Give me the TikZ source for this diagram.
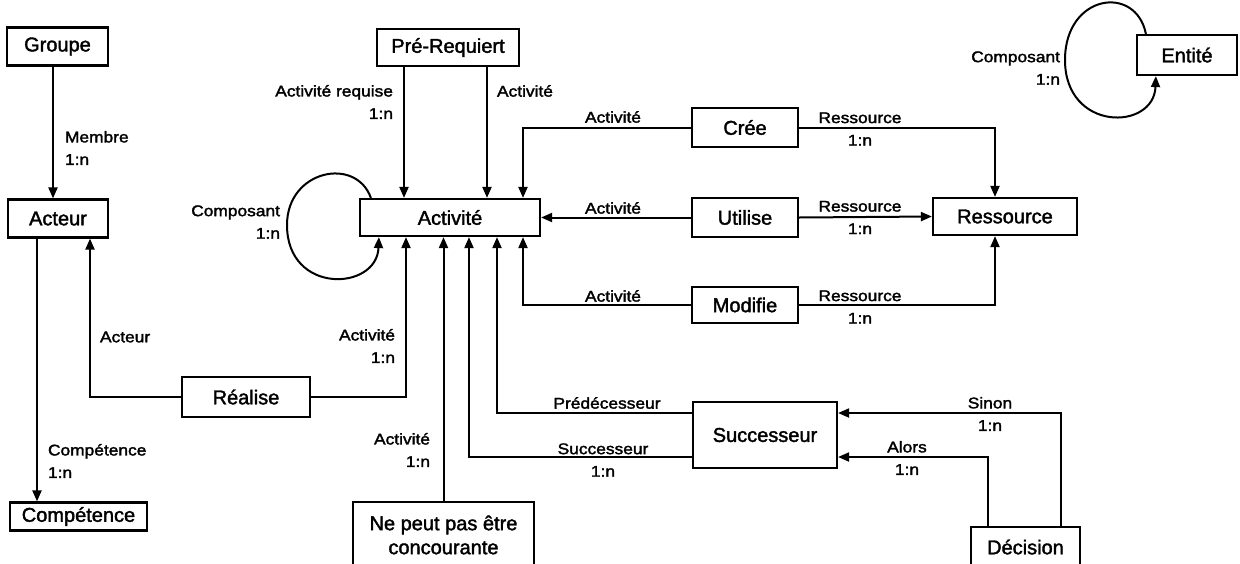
\documentclass[tikz,border=0pt]{standalone}
\usepackage{fontspec}
\setmainfont{Liberation Sans}[FakeBold=1.8]
\newfontfamily\etiqfont[FakeStretch=1.12,FakeBold=2]{Liberation Sans}
\usetikzlibrary{arrows.meta}

\begin{document}
\begin{tikzpicture}[x=1pt,y=-1pt,line width=2pt,>={Triangle[length=11pt,width=9pt]},
  boite/.style={draw,line width=2.2pt,inner sep=0pt,minimum height=38pt,
    font=\fontsize{20}{24}\selectfont},
  etiq/.style={inner sep=0pt,font=\etiqfont\fontsize{15.5}{22.5}\selectfont}]
\useasboundingbox (0,0) rectangle (1240,563);
\clip (0,0) rectangle (1240,563);
% ---------- entités ----------
\node[boite,minimum width=101pt] (groupe) at (57.5,46.5) {Groupe};
\node[boite,minimum width=100pt] (acteur) at (58,218.5) {Acteur};
\node[boite,minimum width=137pt,minimum height=28pt] (competence) at (78.5,516.5) {Compétence};
\node[boite,minimum width=128pt,minimum height=40pt] (realise) at (246,397) {Réalise};
\node[boite,minimum width=180pt,minimum height=37pt] (activite) at (450,217.5) {Activité};
\node[boite,minimum width=142pt,minimum height=37pt] (prereq) at (448,47.5) {Pré-Requiert};
\node[boite,minimum width=106pt,minimum height=39pt] (cree) at (745,127.5) {Crée};
\node[boite,minimum width=106pt,minimum height=39pt] (utilise) at (745,217.5) {Utilise};
\node[boite,minimum width=106pt,minimum height=36pt] (modifie) at (745,305) {Modifie};
\node[boite,minimum width=144pt,minimum height=37pt] (ressource) at (1005,216.5) {Ressource};
\node[boite,minimum width=100pt,minimum height=40pt] (entite) at (1187,55) {Entité};
\node[boite,minimum width=144pt,minimum height=66pt] (successeur) at (765,435) {Successeur};
\node[boite,minimum width=181pt,minimum height=66pt,align=center] (concur) at (443.5,535)
  {Ne peut pas être\\concourante};
\node[boite,minimum width=109pt,minimum height=40pt] (decision) at (1025.5,547) {Décision};
% ---------- liens de gauche ----------
\draw[->] ([xshift=-4.5pt]groupe.south) -- ([xshift=-5pt]acteur.north);
\draw[->] ([xshift=-21pt]acteur.south) -- ([xshift=-41.5pt]competence.north);
\draw[->] (realise.west) -| ([xshift=32pt]acteur.south);
\draw[->] (realise.east) -| ([xshift=-44pt]activite.south);
\node[etiq,align=left,anchor=west] (lmembre) at (64,148) {Membre\\1:n};
\node[etiq,align=left,anchor=west] (lcompet) at (47,461) {Compétence\\1:n};
\node[etiq,anchor=west] (lacteur) at (99,337) {Acteur};
\node[etiq,align=right,anchor=east] (lreal) at (396,346) {Activité\\1:n};
% ---------- Pré-Requiert ----------
\draw[->] ([xshift=-44pt]prereq.south) -- ([xshift=-46pt]activite.north);
\draw[->] ([xshift=39pt]prereq.south) -- ([xshift=37pt]activite.north);
\node[etiq,align=right,anchor=east] (lrequise) at (394,102) {Activité requise\\1:n};
\node[etiq,anchor=west] (lpreact) at (496,91) {Activité};
% boucle Composant de l'activité
\coordinate (boucleA) at (287,225);
\draw[->] ([xshift=12pt]activite.north west) .. controls +(-15,-42) and +(0,-55) .. (boucleA)
  .. controls +(0,70) and +(-2,54) .. ([xshift=20pt]activite.south west);
\node[etiq,align=right,anchor=east] (lcompA) at (281,222) {Composant\\1:n};
% ---------- Crée / Utilise / Modifie ----------
\draw[->] (cree.west) -| ([xshift=73pt]activite.north);
\draw[->] (utilise.west) -- (activite.east);
\draw[->] (modifie.west) -| ([xshift=73pt]activite.south);
\draw[->] (cree.east) -| ([xshift=-10pt]ressource.north);
\draw[->] (utilise.east) -- (ressource.west);
\draw[->] (modifie.east) -| ([xshift=-10pt]ressource.south);
\node[etiq] (lcreeA) at (613,117) {Activité};
\node[etiq] (lutilA) at (613,208) {Activité};
\node[etiq] (lmodifA) at (613,296) {Activité};
\node[etiq,align=center] (lcreeR) at (860,129) {Ressource\\1:n};
\node[etiq,align=center] (lutilR) at (860,217.5) {Ressource\\1:n};
\node[etiq,align=center] (lmodifR) at (860,307) {Ressource\\1:n};
% ---------- Entité ----------
\coordinate (boucleE) at (1065,60);
\draw[->] ([xshift=10pt]entite.north west) .. controls +(-10,-50) and +(0,-66) .. (boucleE)
  .. controls +(0,72) and +(-2,55) .. ([xshift=20pt]entite.south west);
\node[etiq,align=right,anchor=east] (lcompE) at (1061,68) {Composant\\1:n};
% ---------- Successeur / Décision ----------
\draw[->] (concur.north) -- ([xshift=-6.5pt]activite.south);
\draw[->] ([yshift=22pt]successeur.west) -| ([xshift=47pt]activite.south);
\draw[->] ([yshift=-22pt]successeur.west) -| ([xshift=19pt]activite.south);
\draw[->] ([xshift=-37.5pt]decision.north) |- ([yshift=-22pt]successeur.east);
\draw[->] ([xshift=35.5pt]decision.north) |- ([yshift=22pt]successeur.east);
\node[etiq,align=right,anchor=east] (lconcur) at (431,450) {Activité\\1:n};
\node[etiq] (lpred) at (607,403) {Prédécesseur};
\node[etiq,align=center] (lsucc) at (603,460) {Successeur\\1:n};
\node[etiq,align=center] (lsinon) at (990,414) {Sinon\\1:n};
\node[etiq,align=center] (lalors) at (907,458) {Alors\\1:n};
\end{tikzpicture}
\end{document}
